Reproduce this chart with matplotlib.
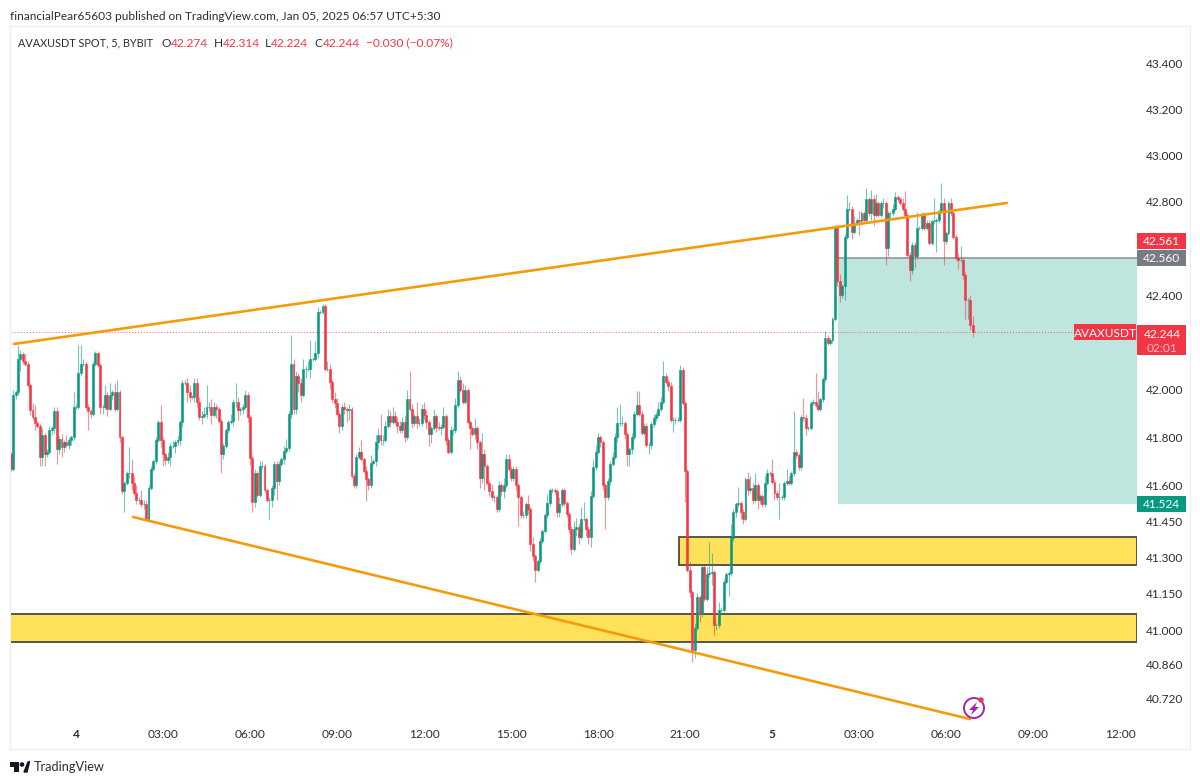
# recreate AVAXUSDT 5 minute chart
import numpy as np
import matplotlib
matplotlib.use("Agg")
import matplotlib.pyplot as plt
from matplotlib.patches import Rectangle, Circle, Polygon
from matplotlib.ticker import NullFormatter, NullLocator

plt.rcParams['font.family'] = ['Lato', 'DejaVu Sans']

# first bar is 2h15 before midnight on Jan 4, one bar every 5 minutes
first_bar = -27
first_open = 41.73

close = [
    41.67,41.98,41.99,42.13,42.15,42.12,42.11,42.02,41.915,41.885,
    41.86,41.85,41.72,41.81,41.73,41.74,41.83,41.84,41.91,41.75,
    41.795,41.76,41.78,41.77,41.79,41.80,41.93,41.93,42.07,42.11,
    42.11,41.93,41.91,41.90,42.11,42.155,42.105,41.93,41.93,41.98,
    41.92,41.98,41.99,41.92,41.99,41.80,41.575,41.61,41.65,41.65,
    41.61,41.57,41.54,41.54,41.52,41.52,41.46,41.59,41.67,41.70,
    41.79,41.865,41.79,41.73,41.705,41.72,41.765,41.765,41.78,41.79,
    41.865,42.03,42.03,41.99,41.97,41.97,42.03,41.95,41.885,41.89,
    41.90,41.93,41.93,41.895,41.93,41.92,41.87,41.73,41.765,41.83,
    41.865,41.87,41.95,41.95,41.915,41.92,41.93,41.98,41.885,41.715,
    41.53,41.65,41.56,41.68,41.68,41.58,41.54,41.54,41.59,41.69,
    41.62,41.69,41.71,41.745,41.755,41.90,42.11,41.92,42.06,42.03,
    41.98,42.09,42.09,42.09,42.13,42.13,42.155,42.33,42.33,42.355,
    42.09,42.09,42.035,41.96,41.945,41.90,41.85,41.93,41.92,41.915,
    41.92,41.64,41.60,41.72,41.74,41.71,41.66,41.625,41.60,41.695,
    41.70,41.78,41.81,41.79,41.79,41.85,41.89,41.865,41.89,41.865,
    41.85,41.83,41.865,41.80,41.96,41.92,41.86,41.89,41.86,41.86,
    41.92,41.895,41.865,41.815,41.84,41.89,41.845,41.84,41.845,41.89,
    41.79,41.74,41.83,41.83,41.935,42.04,42.00,41.95,42.00,41.865,
    41.84,41.815,41.84,41.78,41.63,41.73,41.68,41.61,41.575,41.55,
    41.55,41.50,41.60,41.575,41.60,41.71,41.67,41.63,41.67,41.60,
    41.55,41.475,41.475,41.52,41.50,41.355,41.305,41.25,41.285,41.37,
    41.41,41.475,41.525,41.58,41.58,41.575,41.49,41.52,41.58,41.525,
    41.48,41.42,41.335,41.42,41.425,41.385,41.46,41.46,41.42,41.385,
    41.555,41.675,41.74,41.80,41.78,41.60,41.55,41.62,41.69,41.72,
    41.80,41.86,41.86,41.86,41.815,41.73,41.75,41.80,41.90,41.935,
    41.90,41.82,41.85,41.77,41.77,41.855,41.88,41.895,41.92,41.95,
    42.06,42.035,42.015,41.875,41.875,41.875,41.875,42.085,41.945,41.66,
    41.25,41.157,40.92,41.01,41.135,41.065,41.26,41.13,41.23,41.235,
    41.24,41.02,41.02,41.085,41.085,41.20,41.23,41.235,41.38,41.49,
    41.52,41.525,41.49,41.46,41.625,41.58,41.59,41.54,41.60,41.54,
    41.555,41.52,41.61,41.65,41.65,41.615,41.57,41.55,41.55,41.55,
    41.61,41.62,41.61,41.65,41.74,41.725,41.675,41.885,41.88,41.84,
    41.84,41.945,41.95,41.935,41.92,41.96,42.045,42.22,42.20,42.21,
    42.30,42.69,42.46,42.40,42.44,42.65,42.77,42.77,42.67,42.71,
    42.72,42.716,42.75,42.72,42.81,42.75,42.81,42.745,42.795,42.745,
    42.795,42.795,42.60,42.75,42.75,42.77,42.82,42.81,42.795,42.77,
    42.745,42.573,42.51,42.617,42.567,42.688,42.688,42.745,42.688,42.71,
    42.624,42.716,42.716,42.72,42.76,42.795,42.63,42.666,42.795,42.75,
    42.65,42.56,42.552,42.552,42.488,42.38,42.38,42.274,42.244,
]

# wick length above / below the body
upper_wick = [
    .01,.02,.01,.06,.02,.01,.03,.01,.01,.03,
    .05,.01,.01,.03,.01,.01,.02,.01,.02,.02,
    .01,.02,.01,.03,.01,.01,.06,.01,.12,.08,
    .02,.01,.01,.01,.01,.01,.01,.01,.01,.04,
    .01,.05,.01,.04,.05,.01,.01,.01,.01,.11,
    .06,.03,.03,.01,.04,.02,.02,.01,.01,.01,
    .01,.01,.07,.01,.01,.02,.01,.02,.01,.02,
    .01,.01,.01,.02,.03,.01,.02,.02,.02,.02,
    .03,.09,.02,.03,.02,.01,.01,.01,.01,.01,
    .01,.03,.01,.08,.02,.01,.01,.02,.01,.01,
    .01,.02,.01,.02,.02,.01,.01,.01,.01,.01,
    .01,.01,.01,.02,.04,.01,.12,.02,.02,.01,
    .02,.04,.01,.03,.08,.01,.05,.02,.01,.01,
    .01,.03,.02,.01,.03,.02,.01,.01,.02,.01,
    .02,.01,.01,.01,.02,.05,.01,.02,.01,.03,
    .01,.03,.03,.09,.02,.02,.03,.02,.04,.02,
    .02,.02,.02,.03,.04,.12,.02,.01,.06,.02,
    .02,.03,.02,.01,.01,.03,.01,.02,.01,.04,
    .01,.01,.02,.01,.03,.04,.02,.03,.02,.01,
    .01,.01,.04,.01,.01,.09,.02,.01,.01,.03,
    .01,.01,.02,.01,.03,.02,.02,.01,.01,.01,
    .01,.01,.02,.01,.04,.01,.03,.01,.01,.01,
    .01,.01,.04,.01,.01,.01,.01,.03,.01,.01,
    .01,.01,.01,.03,.04,.02,.05,.07,.01,.01,
    .02,.03,.03,.02,.01,.01,.01,.01,.01,.02,
    .02,.07,.08,.03,.01,.01,.01,.02,.01,.06,
    .06,.01,.01,.01,.01,.01,.02,.01,.03,.02,
    .06,.01,.01,.02,.01,.01,.01,.02,.01,.01,
    .01,.03,.01,.02,.02,.01,.01,.01,.03,.13,
    .08,.01,.01,.03,.01,.01,.01,.01,.06,.01,
    .01,.07,.01,.01,.01,.03,.05,.02,.05,.01,
    .01,.01,.03,.02,.01,.06,.01,.01,.06,.01,
    .01,.05,.02,.01,.17,.01,.01,.01,.08,.02,
    .01,.01,.01,.12,.06,.01,.01,.03,.01,.01,
    .01,.01,.01,.03,.01,.01,.06,.03,.01,.03,
    .01,.04,.01,.01,.05,.01,.04,.02,.04,.01,
    .01,.02,.01,.01,.01,.02,.02,.01,.01,.02,
    .075,.01,.01,.01,.01,.07,.01,.01,.01,.01,
    .01,.01,.10,.01,.01,.085,.02,.01,.01,.02,
    .02,.01,.02,.06,.01,.01,.01,.02,.04,
]
lower_wick = [
    .01,.01,.02,.01,.05,.01,.01,.01,.02,.01,
    .03,.01,.04,.04,.05,.01,.01,.02,.02,.06,
    .02,.04,.02,.01,.02,.02,.01,.01,.01,.01,
    .01,.01,.08,.02,.01,.01,.01,.03,.03,.01,
    .03,.01,.02,.01,.01,.02,.01,.085,.01,.02,
    .03,.01,.02,.02,.01,.02,.01,.01,.01,.01,
    .01,.01,.03,.05,.02,.01,.04,.01,.03,.01,
    .02,.02,.01,.04,.02,.01,.02,.02,.01,.03,
    .01,.02,.02,.04,.01,.04,.01,.08,.02,.01,
    .01,.01,.02,.02,.04,.02,.02,.01,.02,.03,
    .04,.02,.01,.01,.01,.01,.01,.08,.03,.03,
    .08,.02,.01,.02,.01,.01,.02,.02,.02,.04,
    .03,.01,.04,.01,.04,.01,.01,.02,.01,.01,
    .01,.01,.03,.01,.02,.01,.03,.02,.02,.05,
    .04,.01,.01,.01,.01,.01,.01,.09,.02,.01,
    .01,.02,.03,.02,.02,.01,.01,.02,.01,.01,
    .03,.01,.01,.02,.01,.01,.02,.01,.02,.01,
    .01,.02,.03,.05,.04,.01,.02,.01,.03,.01,
    .02,.01,.01,.02,.01,.01,.01,.01,.01,.01,
    .09,.01,.02,.03,.04,.02,.10,.01,.02,.01,
    .02,.01,.01,.02,.03,.01,.01,.01,.01,.02,
    .12,.01,.01,.01,.02,.03,.02,.05,.01,.01,
    .01,.01,.01,.01,.01,.01,.02,.02,.01,.01,
    .01,.02,.02,.01,.03,.03,.01,.01,.03,.03,
    .04,.01,.01,.01,.02,.02,.13,.01,.02,.01,
    .01,.02,.01,.01,.02,.05,.05,.02,.01,.01,
    .01,.01,.01,.01,.04,.02,.01,.01,.01,.01,
    .01,.01,.02,.01,.05,.02,.01,.01,.01,.13,
    .01,.02,.05,.035,.01,.03,.01,.01,.01,.01,
    .05,.04,.02,.01,.01,.01,.01,.09,.01,.01,
    .02,.01,.03,.02,.01,.02,.01,.02,.01,.04,
    .02,.01,.01,.01,.01,.01,.03,.01,.09,.01,
    .01,.01,.01,.01,.01,.01,.01,.01,.01,.03,
    .01,.01,.01,.01,.01,.01,.01,.01,.01,.01,
    .01,.01,.02,.03,.01,.06,.01,.01,.03,.01,
    .01,.06,.01,.01,.01,.01,.03,.05,.01,.01,
    .01,.02,.07,.03,.02,.01,.01,.01,.01,.01,
    .01,.01,.05,.02,.05,.01,.01,.01,.01,.01,
    .01,.01,.01,.13,.01,.01,.10,.01,.01,.01,
    .01,.01,.04,.01,.02,.08,.08,.02,.02,
]

price_ticks = [43.4, 43.2, 43.0, 42.8, 42.4, 42.0, 41.8, 41.6, 41.45, 41.3, 41.15, 41.0, 40.86, 40.72]
time_ticks = [0, 36, 72, 108, 144, 180, 216, 252, 288, 324, 360, 396, 432]
time_labels = ["4", "03:00", "06:00", "09:00", "12:00", "15:00", "18:00", "21:00", "5", "03:00", "06:00", "09:00", "12:00"]

# drawings: (bar, price)
upper_trend = [(-25.6, 42.194), (385.2, 42.795)]
lower_trend = [(23.6, 41.468), (369.9, 40.636)]
zone_a = (249.5, 41.268, 41.384)
zone_b = (-27.3, 40.951, 41.067)
short_box = (315.3, 41.524, 42.56)

last_price = 42.244
GREEN = "#089981"
RED = "#f23645"
ORANGE = "#f59b0b"
YELLOW = "#ffe15a"
TEAL = "#bfe5df"
BORDER = "#4a4a44"
FS = 8.6

fig = plt.figure(figsize=(12, 7.84), dpi=100, facecolor="white")
ax = fig.add_axes([10/1200, (784-722)/784, 1127/1200, (722-27)/784])
ax.set_yscale("log")
ax.set_xlim(-27.31, 439.0)
ax.set_ylim(40.624, 43.557)
for s in ax.spines.values():
    s.set_visible(False)

c = np.array(close)
o = np.array([first_open] + close[:-1])
x = np.arange(first_bar, first_bar + len(c))
top = np.maximum(o, c)
bot = np.minimum(o, c)
hi = top + np.array(upper_wick)
lo = bot - np.array(lower_wick)
up = c >= o
colors = np.where(up, GREEN, RED)

xmax = ax.get_xlim()[1]
ax.add_patch(Rectangle((short_box[0], short_box[1]), xmax - short_box[0], short_box[2] - short_box[1],
                       fc=TEAL, ec="none", zorder=1))
ax.plot([short_box[0], xmax], [short_box[2], short_box[2]], color="#8f9a9a", lw=1.2, zorder=1.5)

for z in (zone_a, zone_b):
    ax.add_patch(Rectangle((z[0], z[1]), xmax - z[0], z[2] - z[1], fc=YELLOW, ec=BORDER, lw=1.3, zorder=1.2))

ax.vlines(x, lo, hi, colors=colors, lw=0.8, alpha=0.55, zorder=3)
ax.bar(x, top - bot, bottom=bot, width=0.8, color=colors, edgecolor=colors, lw=0.4, zorder=4)

ax.plot(*zip(*upper_trend), color=ORANGE, lw=1.9, zorder=5, solid_capstyle="round")
ax.plot(*zip(*lower_trend), color=ORANGE, lw=1.9, zorder=5, solid_capstyle="round")
ax.plot([-26.5, xmax], [last_price, last_price], color=RED, lw=0.7, ls=(0, (1, 2)), alpha=0.8, zorder=2)

ax.yaxis.tick_right()
ax.yaxis.set_minor_locator(NullLocator())
ax.yaxis.set_minor_formatter(NullFormatter())
ax.set_yticks(price_ticks)
ax.set_yticklabels(["%.3f" % p for p in price_ticks])
ax.set_xticks(time_ticks)
ax.set_xticklabels(time_labels)
ax.tick_params(axis="both", length=0, labelsize=FS, labelcolor="#2a2e39")
ax.tick_params(axis="y", pad=6)
ax.tick_params(axis="x", pad=5)
for lab, txt in zip(ax.get_xticklabels(), time_labels):
    if len(txt) == 1:
        lab.set_fontweight("bold")

# overlay in pixels for the frame, price tags and logos
ov = fig.add_axes([0, 0, 1, 1], facecolor="none", zorder=10)
ov.set_xlim(0, 1200)
ov.set_ylim(784, 0)
ov.axis("off")


def py(price):
    return 784 - ax.transData.transform((0, price))[1]


FRAME = "#eceef2"
ov.plot([10, 10, 1190, 1190], [749, 26, 26, 749], color=FRAME, lw=0.8)
ov.plot([10, 1190], [749, 749], color=FRAME, lw=0.8)


def tag(x0, x1, y0, y1, col, txt):
    ov.add_patch(Rectangle((x0, y0), x1 - x0, y1 - y0, fc=col, ec="none"))
    ov.text((x0 + x1) / 2, (y0 + y1) / 2, txt, color="white", fontsize=FS,
            ha="center", va="center_baseline")


# red tag sits just above the grey one, they would overlap otherwise
tag(1137, 1186, py(42.56) - 25, py(42.56) - 9, RED, "42.561")
tag(1137, 1186, py(42.56) - 8, py(42.56) + 8, "#787b86", "42.560")
tag(1074, 1136, py(last_price) - 8, py(last_price) + 8, RED, "AVAXUSDT")
tag(1137, 1186, py(last_price) - 7, py(last_price) + 23, RED, "")
ov.text(1162, py(last_price) + 1, "42.244", color="white", fontsize=FS, ha="center", va="center_baseline")
ov.text(1162, py(last_price) + 15, "02:01", color="#fbc0c5", fontsize=FS, ha="center", va="center_baseline")
tag(1137, 1186, py(41.524) - 8, py(41.524) + 8, GREEN, "41.524")

# header
ov.text(10, 16, "financialPear65603 published on TradingView.com, Jan 05, 2025 06:57 UTC+5:30",
        color="#2a2e39", fontsize=8.6, va="center")
ov.text(18, 43, "AVAXUSDT SPOT, 5, BYBIT", color="#2a2e39", fontsize=7.8, va="center")
for xp, lab, val in [(162, "O", "42.274"), (214, "H", "42.314"), (265, "L", "42.224"), (314, "C", "42.244")]:
    ov.text(xp, 43, lab, color="#2a2e39", fontsize=FS, va="center")
    ov.text(xp + (6 if lab == "L" else 9), 43, val, color=RED, fontsize=FS, va="center")
ov.text(366, 43, "\u22120.030 (\u22120.07%)", color=RED, fontsize=FS, va="center")

# lightning icon
ov.add_patch(Circle((974, 708), 10, fc="white", ec="#9c27b0", lw=1.4))
ov.add_patch(Polygon([(977, 702), (969, 710), (973, 710), (971, 715), (979, 707), (975, 707)], fc="#9c27b0", ec="none"))
ov.add_patch(Circle((981, 700), 2.7, fc=RED, ec="none"))

# TradingView logo
ov.add_patch(Polygon([(10, 762), (19, 762), (19, 772), (14, 772), (14, 767), (10, 767)], fc="#131722", ec="none"))
ov.add_patch(Circle((22, 764.5), 2.3, fc="#131722", ec="none"))
ov.add_patch(Polygon([(24, 772), (28, 762), (30, 762), (29.5, 762), (27, 772)], fc="#131722", ec="#131722", lw=1))
ov.text(34, 767, "TradingView", color="#2a2e39", fontsize=9.2, va="center")

fig.savefig("out.png", dpi=100)
